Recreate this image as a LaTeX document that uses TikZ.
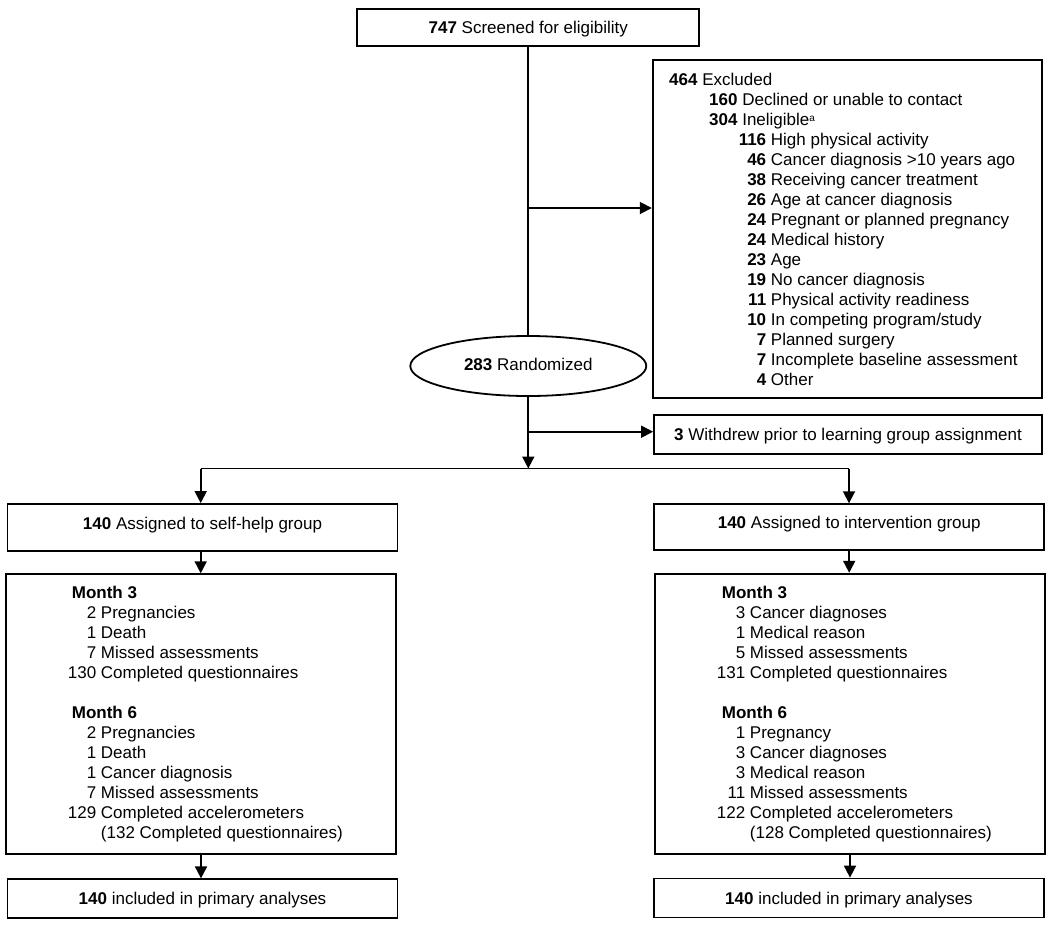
\documentclass[tikz,border=0pt]{standalone}
\usepackage{fontspec}
\setmainfont{Liberation Sans}
\usetikzlibrary{shapes.geometric,arrows.meta}
\tikzset{
  box/.style={draw, line width=1.8pt, inner sep=0pt, align=center,
    text height=12pt, text depth=0pt},
  txt/.style={inner sep=0pt, anchor=north west},
  arr/.style={line width=1.8pt, -{Triangle[length=12pt,width=12pt]}},
  ln/.style={line width=1.8pt},
}
\begin{document}
\begin{tikzpicture}[x=1pt,y=-1pt, font=\fontsize{17}{20}\selectfont]
\useasboundingbox (0,0) rectangle (1050,927);
\fill[white] (0,0) rectangle (1050,927);

% boxes
\node[box, minimum width=342pt, minimum height=37pt] (screen) at (528.3,27.3)
  {\textbf{747} Screened for eligibility};
\node[box, minimum width=389pt, minimum height=338pt] (excl) at (847.2,229) {};
\node[draw, ellipse, line width=1.8pt, inner sep=0pt, minimum width=236pt,
  minimum height=60pt, text height=12pt, text depth=3pt] (rand) at (528.3,366)
  {\textbf{283} Randomized};
\node[box, minimum width=388pt, minimum height=39pt, text depth=-3pt] (withd) at (848,434.7)
  {\textbf{3} Withdrew prior to learning group assignment};

\node[box, minimum width=390pt, minimum height=47pt, text depth=9pt] (selfa) at (202.5,527.5)
  {\textbf{140} Assigned to self-help group};
\node[box, minimum width=390pt, minimum height=46pt, text depth=9pt] (inta) at (849.2,527.2)
  {\textbf{140} Assigned to intervention group};

\node[box, minimum width=390pt, minimum height=280pt] (selfm) at (201,714.2) {};
\node[box, minimum width=390pt, minimum height=280pt] (intm) at (850,713.7) {};

\node[box, minimum width=390pt, minimum height=39pt] (selff) at (202.5,898.8)
  {\textbf{140} included in primary analyses};
\node[box, minimum width=390pt, minimum height=39pt] (intf) at (849,898)
  {\textbf{140} included in primary analyses};

% excluded list
\node[txt] (exlist) at (669,71) {%
\begin{tabular}{@{}l@{}}
\textbf{464} Excluded\\
\hspace*{40pt}\textbf{160} Declined or unable to contact\\
\hspace*{40pt}\textbf{304} Ineligible\raisebox{4pt}{\fontsize{10}{10}\selectfont a}\\
\makebox[97pt][r]{\textbf{116}} High physical activity\\
\makebox[97pt][r]{\textbf{46}} Cancer diagnosis >10 years ago\\
\makebox[97pt][r]{\textbf{38}} Receiving cancer treatment\\
\makebox[97pt][r]{\textbf{26}} Age at cancer diagnosis\\
\makebox[97pt][r]{\textbf{24}} Pregnant or planned pregnancy\\
\makebox[97pt][r]{\textbf{24}} Medical history\\
\makebox[97pt][r]{\textbf{23}} Age\\
\makebox[97pt][r]{\textbf{19}} No cancer diagnosis\\
\makebox[97pt][r]{\textbf{11}} Physical activity readiness\\
\makebox[97pt][r]{\textbf{10}} In competing program/study\\
\makebox[97pt][r]{\textbf{7}} Planned surgery\\
\makebox[97pt][r]{\textbf{7}} Incomplete baseline assessment\\
\makebox[97pt][r]{\textbf{4}} Other
\end{tabular}};

% month lists
\node[txt] (selflist) at (67.7,584.7) {%
\begin{tabular}{@{}r@{\ }l@{}}
\multicolumn{2}{@{\hspace{4pt}}l@{}}{\textbf{Month 3}}\\
2 & Pregnancies\\
1 & Death\\
7 & Missed assessments\\
130 & Completed questionnaires\\
\multicolumn{2}{l}{}\\
\multicolumn{2}{@{\hspace{4pt}}l@{}}{\textbf{Month 6}}\\
2 & Pregnancies\\
1 & Death\\
1 & Cancer diagnosis\\
7 & Missed assessments\\
129 & Completed accelerometers\\
 & (132 Completed questionnaires)
\end{tabular}};

\node[txt] (intlist) at (716.7,584.7) {%
\begin{tabular}{@{}r@{\ }l@{}}
\multicolumn{2}{@{\hspace{5pt}}l@{}}{\textbf{Month 3}}\\
3 & Cancer diagnoses\\
1 & Medical reason\\
5 & Missed assessments\\
131 & Completed questionnaires\\
\multicolumn{2}{l}{}\\
\multicolumn{2}{@{\hspace{5pt}}l@{}}{\textbf{Month 6}}\\
1 & Pregnancy\\
3 & Cancer diagnoses\\
3 & Medical reason\\
11 & Missed assessments\\
122 & Completed accelerometers\\
 & (128 Completed questionnaires)
\end{tabular}};

% connectors
\coordinate (j1) at (528.3,208);
\coordinate (j2) at (528.3,431.7);
\coordinate (jl) at (200.7,468.5);
\coordinate (jr) at (849,468.5);

\draw[ln] (screen.south) -- (rand.north);
\draw[arr] (j1) -- (j1 -| excl.west);
\draw[arr] (rand.south) -- (rand.south |- jl);
\draw[arr] (j2) -- (j2 -| withd.west);
\draw[ln] (jl) -- (jr);
\draw[arr] (jl) -- (jl |- selfa.north);
\draw[arr] (jr) -- (jr |- inta.north);
\draw[arr] (selfa.south -| jl) -- (jl |- selfm.north);
\draw[arr] (inta.south) -- (inta.south |- intm.north);
\draw[arr] (selfm.south) -- (selfm.south |- selff.north);
\draw[arr] (intm.south) -- (intm.south |- intf.north);
\end{tikzpicture}
\end{document}
